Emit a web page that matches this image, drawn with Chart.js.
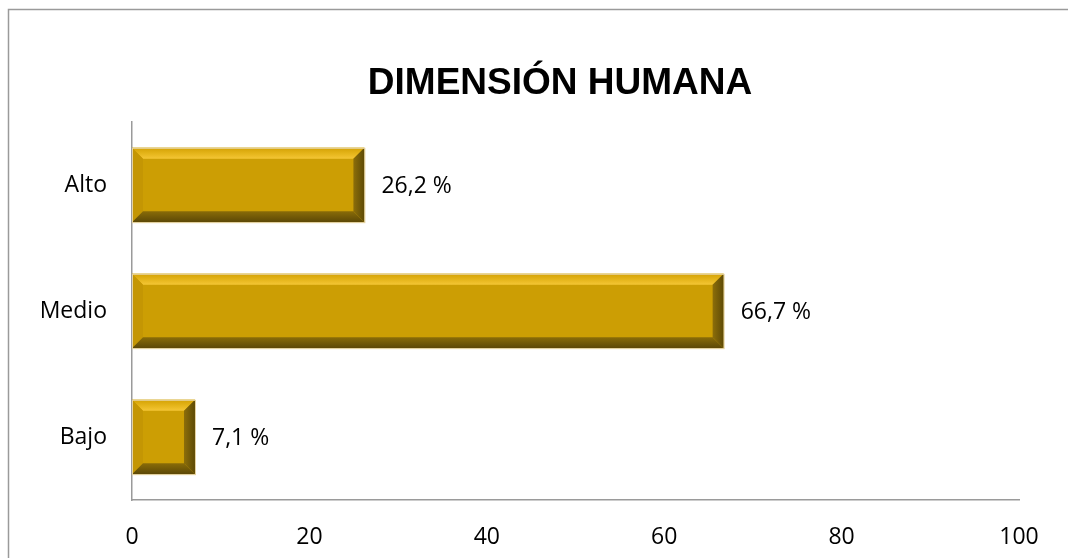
<!DOCTYPE html>
<html>
<head>
<meta charset="utf-8">
<script src="https://cdn.jsdelivr.net/npm/chart.js@4"></script>
<style>
  html, body { margin: 0; padding: 0; background: #fff; }
  #wrap { width: 1068px; height: 558px; position: relative; }
</style>
</head>
<body>
<div id="wrap"><canvas id="grafico"></canvas></div>
<script>
const titolo = "DIMENSIÓN HUMANA";
const categorie = ["Alto", "Medio", "Bajo"];
const valori = [26.2, 66.7, 7.1];
const etichette = ["26,2 %", "66,7 %", "7,1 %"];
const tickX = [0, 20, 40, 60, 80, 100];

const fontTesto = "'Open Sans', sans-serif";

// cornice del grafico + titolo
const cornice = {
  id: 'cornice',
  beforeDraw(chart) {
    const ctx = chart.ctx;
    ctx.save();
    ctx.strokeStyle = '#9a9a9a';
    ctx.lineWidth = 1.5;
    ctx.strokeRect(8.5, 9.5, chart.width + 20, chart.height + 20);
    ctx.fillStyle = '#000';
    ctx.font = "bold 37px 'Liberation Sans', Arial, sans-serif";
    ctx.textAlign = 'center';
    ctx.textBaseline = 'middle';
    ctx.fillText(titolo, 560, 84);
    ctx.restore();
  }
};

// barre con effetto smussato
const smusso = {
  id: 'smusso',
  afterDatasetsDraw(chart) {
    const ctx = chart.ctx;
    const meta = chart.getDatasetMeta(0);
    ctx.save();
    meta.data.forEach((bar, i) => {
      const x0 = bar.base, x1 = bar.x;
      const y0 = bar.y - bar.height / 2, y1 = bar.y + bar.height / 2;
      const b = 11;
      const poly = (pts, col) => {
        ctx.beginPath();
        ctx.moveTo(pts[0][0], pts[0][1]);
        pts.slice(1).forEach(p => ctx.lineTo(p[0], p[1]));
        ctx.closePath();
        ctx.fillStyle = col;
        ctx.fill();
      };
      // faccia centrale
      poly([[x0, y0], [x1, y0], [x1, y1], [x0, y1]], '#cc9e04');
      // sopra
      const gTop = ctx.createLinearGradient(0, y0, 0, y0 + b);
      gTop.addColorStop(0, '#d4a204');
      gTop.addColorStop(0.55, '#e6b61c');
      gTop.addColorStop(1, '#f4c636');
      poly([[x0, y0], [x1, y0], [x1 - b, y0 + b], [x0 + b, y0 + b]], gTop);
      // sinistra
      poly([[x0, y0], [x0 + b, y0 + b], [x0 + b, y1 - b], [x0, y1]], '#c49604');
      // sotto
      const gBot = ctx.createLinearGradient(0, y1 - b, 0, y1);
      gBot.addColorStop(0, '#8a6c08');
      gBot.addColorStop(1, '#5c4806');
      poly([[x0, y1], [x0 + b, y1 - b], [x1 - b, y1 - b], [x1, y1]], gBot);
      // destra
      const gDx = ctx.createLinearGradient(x1 - b, 0, x1, 0);
      gDx.addColorStop(0, '#8c6e0a');
      gDx.addColorStop(1, '#5e4a06');
      poly([[x1, y0], [x1, y1], [x1 - b, y1 - b], [x1 - b, y0 + b]], gDx);
      // bordo chiaro
      ctx.strokeStyle = '#e6d3a0';
      ctx.lineWidth = 1;
      ctx.strokeRect(x0 + 0.5, y0 + 0.5, x1 - x0, y1 - y0);

      // etichetta valore
      ctx.fillStyle = '#000';
      ctx.font = "23px " + fontTesto;
      ctx.textAlign = 'left';
      ctx.textBaseline = 'middle';
      ctx.fillText(etichette[i], x1 + 17, bar.y + 1);
    });
    ctx.restore();
  }
};

new Chart(document.getElementById('grafico'), {
  type: 'bar',
  data: {
    labels: categorie,
    datasets: [{
      data: valori,
      backgroundColor: 'rgba(0,0,0,0)',
      borderWidth: 0,
      categoryPercentage: 0.59,
      barPercentage: 1
    }]
  },
  options: {
    indexAxis: 'y',
    responsive: true,
    maintainAspectRatio: false,
    animation: false,
    layout: { padding: { top: 122, right: 49, left: 0, bottom: 0 } },
    plugins: { legend: { display: false }, tooltip: { enabled: false }, title: { display: false } },
    scales: {
      x: {
        min: 0, max: 100,
        afterBuildTicks: s => { s.ticks = tickX.map(v => ({ value: v })); },
        afterFit: s => { s.height = 58; },
        grid: { display: false, drawTicks: false },
        border: { color: '#9a9a9a', width: 1.5 },
        ticks: { color: '#000', padding: 24, font: { family: fontTesto, size: 23 } }
      },
      y: {
        afterFit: s => { s.width = 132; },
        grid: { display: false, drawTicks: false },
        border: { color: '#9a9a9a', width: 1.5 },
        ticks: { color: '#000', padding: 25, font: { family: fontTesto, size: 23 } }
      }
    }
  },
  plugins: [cornice, smusso]
});
</script>
</body>
</html>
